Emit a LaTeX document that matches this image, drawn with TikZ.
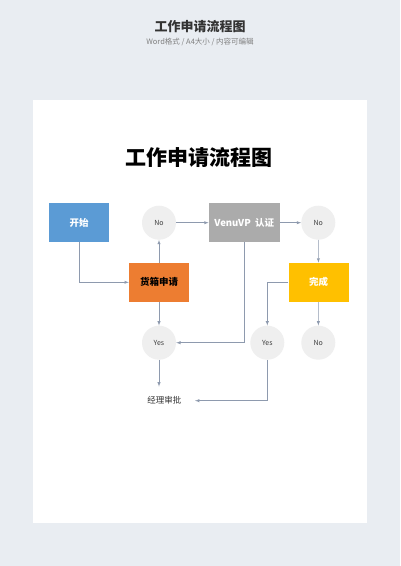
\documentclass[tikz,border=0pt]{standalone}
\usepackage{fontspec}
\setmainfont{Noto Sans CJK SC}
\usetikzlibrary{positioning}
\usetikzlibrary{arrows}
\definecolor{bg}{HTML}{E9EDF2}
\definecolor{lnk}{HTML}{8E9AAE}
\definecolor{blu}{HTML}{5B9BD5}
\definecolor{org}{HTML}{ED7D31}
\definecolor{gld}{HTML}{FFC000}
\definecolor{gry}{HTML}{ABABAB}
\definecolor{crc}{HTML}{EFEFEF}
\tikzset{box/.style={minimum width=60pt, minimum height=39pt, inner sep=0pt, font=\fontsize{9.5}{11}\selectfont\bfseries}}
\tikzset{crl/.style={circle, fill=crc, minimum size=34pt, inner sep=0pt, text=black!75, font=\fontsize{7}{8}\selectfont}}
\tikzset{lnk/.style={draw=lnk, line width=0.5pt, ->, >=latex}}

\begin{document}
\begin{tikzpicture}[x=1pt,y=-1pt]
\useasboundingbox (0,0) rectangle (400,566);
\fill[bg] (0,0) rectangle (400,566);
%\fill[black!6] (33.5,101) rectangle (367.5,524);
\fill[white] (32.7,100) rectangle (366.7,523);
\node[text=black!80] (t0) at (200,27) {\fontsize{13}{15}\selectfont\bfseries 工作申请流程图};
\node[text=black!50] (t1) at (200,42) {\fontsize{7.5}{9}\selectfont Word格式 / A4大小 / 内容可编辑};
\node (t) at (199,158) {\fontsize{21}{24}\selectfont\bfseries 工作申请流程图};
\node[box, fill=blu, text=white] (s) at (79,222.7) {开始};
\node[crl] (n1) at (159,222.7) {No};
\node[box, fill=gry, text=white, minimum width=71pt] (v) at (244.3,222.7) {VenuVP\ \ 认证};
\node[crl] (n2) at (318.3,222.7) {No};
\node[box, fill=org, text=black] (h) at (159,282.3) {货箱申请};
\node[box, fill=gld, text=white] (w) at (318.5,282.3) {完成};
\node[crl] (y1) at (159,342.7) {Yes};
\node[crl] (y2) at (267.3,342.7) {Yes};
\node[crl] (n3) at (318.3,342.7) {No};
\node[minimum width=61pt, minimum height=28pt, inner sep=0pt, text=black!80, font=\fontsize{8.5}{10}\selectfont] (m) at (164.3,400.7) {经理审批};
\draw[lnk] (s) |- (h);
\draw[lnk] (h) -- (n1);
\draw[lnk] (n1) -- (v);
\draw[lnk] (v) -- (n2);
\draw[lnk] (n2) -- (w);
\draw[lnk] (h) -- (y1);
\draw[lnk] (v) |- (y1);
\draw[lnk] (w) -| (y2);
\draw[lnk] (w) -- (n3);
\draw[lnk] (y1) -- (y1 |- m.north);
\draw[lnk] (y2) |- (m);
\end{tikzpicture}
\end{document}
